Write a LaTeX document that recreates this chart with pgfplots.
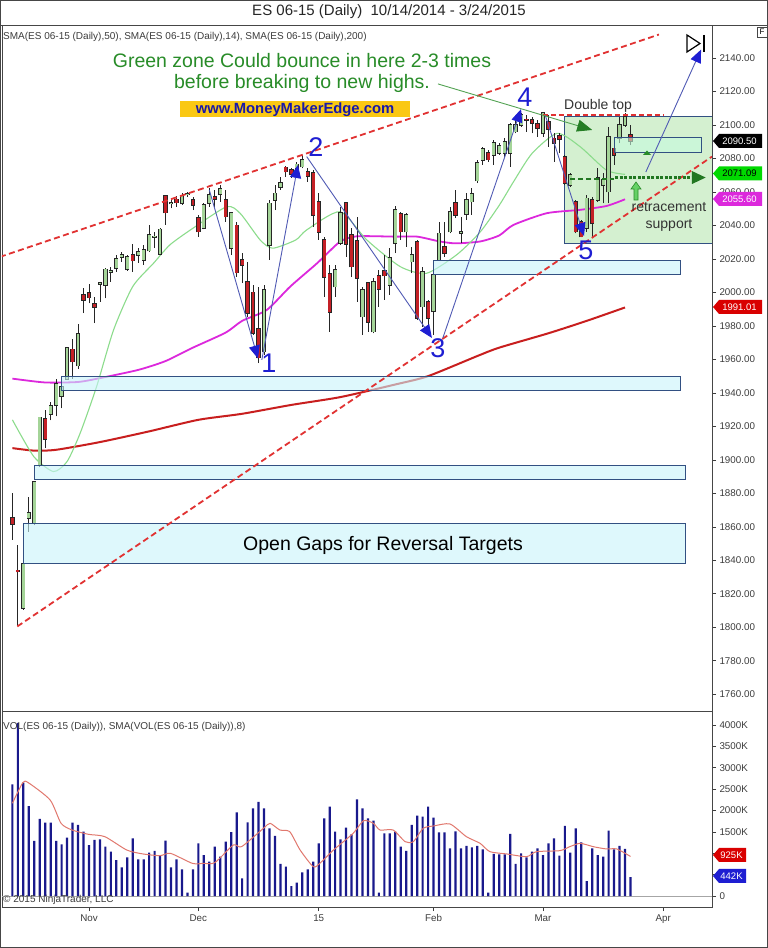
\documentclass[border=0pt]{standalone}
\usepackage{fontspec}
\setmainfont{Liberation Sans}
\usepackage{pgfplots}
\usepackage{pgfplotstable}
\pgfplotsset{compat=1.18}
\usetikzlibrary{arrows.meta}
\newcommand{\fs}[1]{\fontsize{#1}{#1}\selectfont}
\definecolor{candgreen}{RGB}{164,212,152}
\definecolor{candred}{RGB}{196,32,38}
\definecolor{smagreen}{RGB}{140,220,140}
\definecolor{smamag}{RGB}{220,40,220}
\definecolor{smared}{RGB}{200,30,30}
\definecolor{trendred}{RGB}{225,50,50}
\definecolor{gapfill}{RGB}{200,244,250}
\definecolor{boxedge}{RGB}{50,80,130}
\definecolor{zonefill}{RGB}{212,240,208}
\definecolor{annblue}{RGB}{30,30,210}
\definecolor{annline}{RGB}{80,90,180}
\definecolor{anngreen}{RGB}{40,140,40}
\definecolor{volblue}{RGB}{25,25,140}
\definecolor{volsma}{RGB}{225,120,110}
\definecolor{labgray}{RGB}{60,60,60}
\definecolor{axisgray}{RGB}{70,70,70}
\definecolor{gold}{RGB}{250,200,20}

\pgfplotstableread{
i O H L C
0 1865.2 1880.1 1852.2 1861.8
1 1834.0 1849.0 1800.5 1833.3
2 1811.6 1838.5 1810.4 1838.0
3 1865.4 1878.0 1857.0 1868.3
4 1862.2 1887.5 1861.0 1887.0
5 1896.6 1925.5 1895.5 1925.3
6 1924.5 1929.8 1907.0 1912.3
7 1927.3 1934.8 1923.5 1932.4
8 1932.8 1948.4 1926.0 1945.4
9 1938.2 1947.8 1930.8 1943.4
10 1948.4 1967.5 1947.8 1966.7
11 1966.0 1972.2 1948.4 1958.7
12 1956.3 1981.0 1954.3 1975.2
13 1998.5 2002.5 1987.6 1995.5
14 1999.5 2004.9 1993.5 1996.9
15 1993.2 1997.5 1981.6 1991.1
16 2005.0 2006.5 1994.5 2005.8
17 2004.5 2014.5 1996.5 2013.8
18 2012.0 2015.0 2006.5 2013.0
19 2014.4 2022.4 2012.4 2020.0
20 2021.0 2024.4 2018.4 2022.2
21 2013.8 2022.2 2013.0 2021.4
22 2022.2 2029.0 2012.4 2019.0
23 2022.4 2026.4 2017.8 2024.4
24 2019.4 2028.4 2016.4 2025.4
25 2025.0 2040.3 2024.4 2034.3
26 2033.0 2036.3 2026.4 2033.4
27 2023.0 2038.7 2022.4 2037.7
28 2057.6 2058.2 2040.3 2047.7
29 2053.0 2055.2 2050.2 2053.4
30 2055.6 2057.6 2051.2 2053.6
31 2053.2 2059.2 2052.2 2057.6
32 2058.6 2060.2 2057.2 2058.9
33 2055.2 2057.2 2049.2 2052.2
34 2044.3 2046.3 2033.3 2036.3
35 2038.3 2053.2 2037.7 2052.2
36 2053.2 2062.2 2051.2 2058.2
37 2057.2 2061.2 2051.2 2055.6
38 2058.5 2064.2 2054.2 2061.6
39 2055.2 2061.2 2042.3 2045.3
40 2026.5 2048.3 2022.3 2047.5
41 2040.0 2042.3 2009.4 2011.8
42 2019.4 2023.4 2005.5 2016.4
43 2006.5 2018.4 1985.6 1987.6
44 2000.0 2004.5 1974.6 1975.6
45 1978.0 2003.0 1957.7 1961.0
46 1964.7 2004.5 1962.7 2001.5
47 2028.3 2055.2 2019.4 2053.2
48 2055.2 2064.2 2049.2 2059.2
49 2063.0 2069.2 2061.2 2065.2
50 2074.7 2075.5 2069.2 2072.1
51 2073.1 2074.5 2068.5 2070.5
52 2074.0 2078.0 2072.0 2076.5
53 2075.1 2082.0 2074.0 2079.1
54 2072.1 2074.0 2066.0 2069.3
55 2071.3 2073.0 2039.3 2046.3
56 2054.2 2059.2 2031.3 2036.0
57 2031.3 2033.3 1997.5 2008.9
58 2010.9 2016.4 1976.6 1988.3
59 2003.5 2016.4 1997.5 2013.4
60 2029.3 2051.2 2028.3 2047.3
61 2053.6 2054.2 2021.4 2028.8
62 2034.5 2038.3 2009.4 2015.4
63 2030.7 2045.0 1994.5 2008.5
64 1985.6 2003.5 1974.6 2001.5
65 2005.5 2006.5 1976.6 1982.3
66 1976.6 2008.5 1975.6 2006.5
67 2009.8 2013.4 1991.5 2001.9
68 2013.0 2022.4 1995.5 2010.0
69 2004.5 2026.4 1998.5 2020.4
70 2029.4 2051.6 2023.4 2049.2
71 2046.9 2048.2 2031.3 2036.3
72 2036.3 2047.3 2027.4 2046.3
73 2018.4 2027.4 2011.4 2022.4
74 2030.3 2031.3 1983.6 1984.6
75 1991.5 2015.4 1979.6 2012.4
76 1994.5 1995.5 1975.6 1984.6
77 1988.6 2011.0 1974.6 2010.4
78 2019.4 2042.3 2018.9 2035.3
79 2027.4 2042.3 2021.4 2023.4
80 2036.3 2051.2 2035.3 2048.2
81 2053.6 2061.2 2044.3 2046.3
82 2035.6 2045.3 2029.3 2036.0
83 2046.9 2059.2 2043.3 2055.2
84 2054.2 2062.2 2046.3 2058.8
85 2066.8 2079.1 2065.2 2077.5
86 2079.1 2087.0 2076.1 2085.8
87 2083.1 2085.0 2078.1 2079.3
88 2082.1 2091.0 2076.1 2089.1
89 2083.1 2089.5 2082.1 2087.7
90 2083.1 2092.0 2081.1 2090.1
91 2083.1 2101.0 2075.1 2100.0
92 2096.0 2103.0 2095.0 2100.0
93 2100.0 2107.0 2099.0 2106.0
94 2103.4 2106.0 2096.0 2102.8
95 2103.0 2105.0 2095.0 2101.0
96 2100.6 2103.0 2093.0 2098.0
97 2095.0 2108.0 2093.0 2107.0
98 2102.0 2106.0 2087.0 2097.4
99 2092.0 2095.0 2078.0 2089.0
100 2093.4 2095.0 2083.0 2091.4
101 2081.0 2082.0 2064.2 2065.2
102 2064.2 2071.2 2063.2 2070.2
103 2054.2 2055.2 2035.3 2036.3
104 2042.3 2043.3 2032.9 2033.3
105 2038.3 2058.2 2036.3 2056.2
106 2055.2 2057.2 2033.3 2041.3
107 2055.2 2074.1 2054.2 2068.2
108 2064.2 2071.2 2053.2 2067.2
109 2060.2 2099.0 2053.2 2093.0
110 2086.0 2093.0 2076.1 2082.1
111 2092.0 2105.0 2089.0 2100.0
112 2100.0 2107.0 2099.0 2104.6
113 2094.0 2100.0 2088.0 2090.5
}\candles

\pgfplotstableread{
i V
0 2612
1 4050
2 2651
3 2105
4 1287
5 1802
6 1716
7 1716
8 1287
9 1209
10 1365
11 1716
12 1661
13 1505
14 1193
15 1310
16 1326
17 1154
18 1037
19 842
20 671
21 905
22 1349
23 858
24 858
25 1014
26 1053
27 936
28 1295
29 671
30 858
31 624
32 78
33 624
34 1232
35 959
36 803
37 1154
38 920
39 1271
40 1497
41 1957
42 413
43 1724
44 2051
45 2199
46 2051
47 1583
48 1404
49 749
50 686
51 234
52 312
53 554
54 624
55 803
56 1232
57 1817
58 2090
59 1505
60 1326
61 1599
62 1443
63 2262
64 2051
65 1817
66 1763
67 78
68 1466
69 1466
70 1505
71 1154
72 1053
73 1661
74 1879
75 1856
76 2090
77 1833
78 1490
79 1490
80 1115
81 1513
82 1115
83 1170
84 1139
85 1170
86 1092
87 78
88 983
89 975
90 975
91 1451
92 749
93 998
94 905
95 1037
96 1115
97 959
98 1232
99 1349
100 944
101 1638
102 1014
103 1583
104 1256
105 351
106 1115
107 959
108 920
109 1529
110 1092
111 1170
112 1100
113 442
}\vol

\begin{document}
\begin{tikzpicture}[x=1pt,y=1pt]
\fill[white] (0,0) rectangle (768,948);
\path[use as bounding box] (0,0) rectangle (768,948);

% ---------------- price panel ----------------
\begin{axis}[at={(2pt,237pt)}, anchor=south west, width=710pt, height=686pt,
  scale only axis, xmin=-1.9, xmax=127.9, ymin=1750, ymax=2159.7,
  xtick=\empty, ytick={1760,1780,...,2140}, ytick pos=right,
  tick align=outside, major tick length=4pt,
  tick style={labgray, line width=0.6pt},
  axis line style={draw=axisgray, line width=0.8pt},
  yticklabel style={font=\fs{9.8}, text=labgray,
    /pgf/number format/fixed, /pgf/number format/fixed zerofill,
    /pgf/number format/precision=2, /pgf/number format/1000 sep={},
    /pgf/number format/assume math mode=true}]

% green zone (behind candles)
\fill[zonefill] (axis cs:101,2029) rectangle (axis cs:127.9,2105);
\draw[boxedge, line width=0.8pt] (axis cs:101,2029) rectangle (axis cs:127.9,2105);

% SMA lines
\addplot[smared, line width=2pt, smooth, tension=0.4] coordinates {
(0,1907) (4,1905.5) (8,1906) (16,1910.6) (25,1917) (34,1923.9) (42,1927.5)
(51,1932.8) (60,1937.5) (70,1945) (76,1950) (85,1962) (89,1967) (98,1975.6)
(105,1983) (112,1991.0)};
\addplot[smamag, line width=1.8pt, smooth, tension=0.4] coordinates {
(0,1948.5) (6,1946.2) (12,1946.5) (16,1948.8) (23,1953.7) (28,1959) (33,1967)
(39,1976) (42,1983) (46.5,1989.5) (50.8,2003.5) (55.7,2017.4) (59.9,2030.3)
(63,2033.5) (70,2033.3) (74,2033.3) (78,2030.5) (81,2029.3) (85.5,2030.4)
(89,2034) (91.6,2040.3) (97.7,2047.3) (103.8,2049.3) (108.6,2051.6) (112,2055.6)};
\addplot[smagreen, line width=1.1pt, smooth, tension=0.4] coordinates {
(0,1923.9) (3.9,1902) (7.5,1893) (10,1899) (12.4,1916) (15.4,1943.8)
(18.5,1977.6) (22,2003.5) (25.8,2017.4) (28.8,2028.4) (33,2038.3)
(39.2,2051.2) (41.7,2047) (45.3,2031.3) (47.6,2026.4) (51.8,2031.3)
(53.8,2037.3) (59.9,2048.2) (64.8,2031.3) (70.9,2015.4) (75.7,2011.4)
(81.2,2022.4) (85.5,2036) (89,2052) (91.6,2066) (95,2083) (99.6,2095)
(103.8,2087) (108.6,2073) (112,2070.5)};

% candles: wicks
\addplot[draw=none, mark=none, forget plot,
  error bars/.cd, y dir=plus, y explicit, error mark=none,
  error bar style={draw=black!85, solid, line width=0.8pt}]
  table[x=i, y=L, y error expr=\thisrow{H}-\thisrow{L}] {\candles};
% body outlines
\addplot[draw=none, mark=none, forget plot,
  error bars/.cd, y dir=plus, y explicit, error mark=none,
  error bar style={draw=black!85, solid, line width=4.3pt}]
  table[x=i, y expr={min(\thisrow{O},\thisrow{C})-0.45},
        y error expr={abs(\thisrow{C}-\thisrow{O})+0.9}] {\candles};
% up bodies
\addplot[draw=none, mark=none, forget plot,
  restrict expr to domain={\thisrow{C}-\thisrow{O}}{0:1000},
  error bars/.cd, y dir=plus, y explicit, error mark=none,
  error bar style={draw=candgreen, solid, line width=2.8pt}]
  table[x=i, y=O, y error expr={\thisrow{C}-\thisrow{O}}] {\candles};
% down bodies
\addplot[draw=none, mark=none, forget plot,
  restrict expr to domain={\thisrow{O}-\thisrow{C}}{0.0001:1000},
  error bars/.cd, y dir=plus, y explicit, error mark=none,
  error bar style={draw=candred, solid, line width=2.8pt}]
  table[x=i, y=C, y error expr={\thisrow{O}-\thisrow{C}}] {\candles};

% open gap boxes
\begin{scope}[fill opacity=0.6]
\fill[gapfill] (axis cs:2,1837.9) rectangle (axis cs:123.1,1861.8);
\fill[gapfill] (axis cs:4,1888.5) rectangle (axis cs:123.1,1896.6);
\fill[gapfill] (axis cs:9,1941.3) rectangle (axis cs:122.2,1949.7);
\fill[gapfill] (axis cs:77,2011.0) rectangle (axis cs:122.2,2019.4);
\fill[gapfill!80!green!60] (axis cs:110,2083.5) rectangle (axis cs:126,2092.4);
\end{scope}
\draw[boxedge, line width=0.8pt] (axis cs:2,1837.9) rectangle (axis cs:123.1,1861.8);
\draw[boxedge, line width=0.8pt] (axis cs:4,1888.5) rectangle (axis cs:123.1,1896.6);
\draw[boxedge, line width=0.8pt] (axis cs:9,1941.3) rectangle (axis cs:122.2,1949.7);
\draw[boxedge, line width=0.8pt] (axis cs:77,2011.0) rectangle (axis cs:122.2,2019.4);
\draw[boxedge, line width=0.8pt] (axis cs:110,2083.5) rectangle (axis cs:126,2092.4);

% trend lines
\draw[trendred, line width=1.8pt, dash pattern=on 6pt off 3.5pt]
  (axis cs:-2.27,2021.2) -- (axis cs:118.2,2154);
\draw[trendred, line width=1.8pt, dash pattern=on 6pt off 3.5pt]
  (axis cs:0.9,1800.5) -- (axis cs:127.9,2081.1);
% double top
\draw[trendred, line width=1.5pt, dash pattern=on 5pt off 3pt]
  (axis cs:97,2106) -- (axis cs:119,2106);

% blue zigzag
\begin{scope}[annline, line width=0.9pt, -{Triangle[length=13pt,width=11pt,color=annblue]}]
\draw (axis cs:36,2061.2) -- (axis cs:44.9,1960.5);
\draw (axis cs:45.6,1959.7) -- (axis cs:52.2,2076.1);
\draw (axis cs:53.8,2081.1) -- (axis cs:76.7,1972.8);
\draw (axis cs:78.7,1972.8) -- (axis cs:93.0,2109.5);
\draw (axis cs:97.4,2106) -- (axis cs:104.5,2033.7);
\draw (axis cs:115.8,2071.9) -- (axis cs:125.9,2145);
\end{scope}

% green arrows
\draw[anngreen!80, line width=0.9pt, -{Triangle[length=15pt,width=12pt,color=anngreen!90!black]}]
  (axis cs:77.8,2124.5) -- (axis cs:106.0,2097.0);
\draw[anngreen!85!black, line width=1.8pt, dash pattern=on 5pt off 3pt]
  (axis cs:102,2067.8) -- (axis cs:110,2067.8);
\draw[anngreen!85!black, line width=3pt, dash pattern=on 3pt off 1.5pt,
  -{Triangle[length=14pt,width=12pt]}]
  (axis cs:110.2,2068.6) -- (axis cs:126.8,2068.6);
\end{axis}

% ---------------- volume panel ----------------
\begin{axis}[at={(2pt,41pt)}, anchor=south west, width=710pt, height=196pt,
  scale only axis, xmin=-1.9, xmax=127.9, ymin=-257, ymax=4327,
  xtick={14,34,56,77,97,119}, xticklabels={Nov,Dec,15,Feb,Mar,Apr},
  xtick pos=bottom, ytick={0,500,...,4000},
  yticklabels={0,{},{},1500K,2000K,2500K,3000K,3500K,4000K},
  ytick pos=right, tick align=outside, major tick length=4pt,
  tick style={labgray, line width=0.6pt},
  axis line style={draw=axisgray, line width=0.8pt},
  yticklabel style={font=\fs{9.8}, text=labgray},
  xticklabel style={font=\fs{9.8}, text=labgray}]
\draw[gray!70, line width=0.6pt] (axis cs:-1.9,0) -- (axis cs:127.9,0);
\addplot[ybar, bar width=2.2pt, fill=volblue, draw=none] table[x=i, y=V] {\vol};
\addplot[volsma, line width=1pt, smooth, tension=0.4] coordinates {
(0,2168) (1.9,2651) (2.9,2651) (6.9,2246) (8.9,1700) (10.9,1544) (13.9,1443)
(16.9,1388) (20.9,1076) (23.9,983) (27,944) (28.9,998) (32.9,764) (34.9,764)
(37,780) (40.4,1193) (41.9,1154) (45.9,1583) (47.1,1700) (48.9,1544)
(50.7,1505) (52.6,1076) (55,686) (56.2,764) (58.7,1076) (62.3,1466)
(64.2,1763) (66,1700) (67.2,1544) (69.6,1544) (71.8,1271) (73.3,1271)
(75.1,1583) (77,1638) (80,1685) (83,1388) (85.5,1232) (87.3,1037)
(90.4,983) (94,920) (95.8,1037) (100.1,1061) (101.9,1154) (103.8,1232)
(106.2,1154) (108.6,1100) (110.5,1100) (113,925)};
\end{axis}

% ---------------- frame and texts ----------------
\draw[axisgray, line width=0.8pt] (0,923) -- (768,923);
\draw[axisgray, line width=1pt] (0.5,0.5) rectangle (767.5,947.5);

\node[text=black!85, font=\fs{15}] at (389,936) {ES 06-15 (Daily)\ \ 10/14/2014 - 3/24/2015};
\node[anchor=west, text=labgray, font=\fs{10}, inner sep=0pt] at (3,911)
  {SMA(ES 06-15 (Daily),50), SMA(ES 06-15 (Daily),14), SMA(ES 06-15 (Daily),200)};
\node[anchor=west, text=labgray, font=\fs{10}, inner sep=0pt] at (3,221)
  {VOL(ES 06-15 (Daily)), SMA(VOL(ES 06-15 (Daily)),8)};
\node[anchor=west, text=labgray, font=\fs{10}, inner sep=0pt] at (3,48)
  {\textcopyright{} 2015 NinjaTrader, LLC};

\node[text=anngreen, font=\fs{19.5}] at (302,887) {Green zone Could bounce in here 2-3 times};
\node[text=anngreen, font=\fs{19.5}] at (302,865) {before breaking to new highs.};
\fill[gold] (180,830.5) rectangle (410,846.5);
\node[text=annblue!80!black, font=\bfseries\fs{14.8}] at (295,838.5) {www.MoneyMakerEdge.com};

\node[text=black!80, font=\fs{14}] at (598,842) {Double top};
\node[text=black!80, font=\fs{14}] at (669,741) {retracement};
\node[text=black!80, font=\fs{14}] at (669,723) {support};
\node[text=black, font=\fs{19.5}] at (383,403) {Open Gaps for Reversal Targets};

\begin{scope}[text=annblue, font=\fs{27}]
\node at (269,585) {1};
\node at (316,801) {2};
\node at (438,600) {3};
\node at (525,851) {4};
\node at (586,698) {5};
\end{scope}

% small green up arrow and marker
\filldraw[fill=green!70!black!60, draw=anngreen, line width=0.6pt]
  (634,748) -- (638,748) -- (638,759) -- (641,759) -- (636,766) -- (631,759) -- (634,759) -- cycle;
\fill[anngreen] (643,793) -- (651,793) -- (647,797.5) -- cycle;

% play-to-end icon and F box
\draw[black, line width=1.2pt] (687,913) -- (687,896) -- (700,904.5) -- cycle;
\draw[black, line width=1.4pt] (704,913) -- (704,896);
\draw[axisgray, line width=0.6pt] (757,911) rectangle (767,921);
\node[font=\fs{8}, inner sep=0pt] at (762,916) {F};

% value flags
\newcommand{\flag}[5]{%
  \fill[#3] (713,#1) -- (719,#1+7) -- (#5,#1+7) -- (#5,#1-7) -- (719,#1-7) -- cycle;
  \node[text=#4, font=\fs{9.5}, inner sep=0pt] at ({(717+#5)/2},#1) {#2};}
\flag{807}{2090.50}{black}{white}{762}
\flag{774.5}{2071.09}{green!85!black}{black}{762}
\flag{749}{2055.60}{smamag}{white}{762}
\flag{641}{1991.01}{red!85!black}{white}{762}
\flag{93}{925K}{red!85!black}{white}{746}
\flag{72}{442K}{annblue}{white}{746}
\end{tikzpicture}
\end{document}
